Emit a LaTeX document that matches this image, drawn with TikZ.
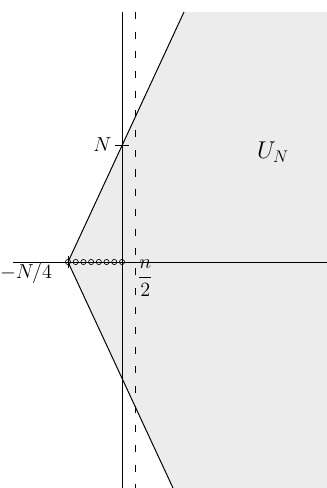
\documentclass[tikz,border=0pt]{standalone}
\usetikzlibrary{positioning,calc}
\begin{document}
\begin{tikzpicture}[x=0.025cm, y=0.025cm,
    axis/.style={line width=0.7pt},
    bound/.style={line width=0.7pt},
    region/.style={fill=gray!15},
    dot/.style={line width=0.45pt},
    lbl/.style={font=\fontsize{13.5}{16}\selectfont, inner sep=1pt}
]
\useasboundingbox (-122,-226) rectangle (205,262);

% Key points
\coordinate (O) at (0,0);
\coordinate (A) at (-54,0);
\coordinate (T) at (62,250);
\coordinate (B) at (51,-226);
\coordinate (NT) at (0,117);

% Region U_N
\fill[region] (A) -- (T) -- (205,250) -- (205,-226) -- (B) -- cycle;

% Axes
\coordinate (xl) at (-109,0);
\coordinate (xr) at (205,0);
\coordinate (yt) at (0,250);
\coordinate (yb) at (0,-226);
\draw[axis] (xl) -- (xr);
\draw[axis] (yt) -- (yb);

% Dashed line at n/2
\coordinate (dt) at (13,250);
\coordinate (db) at (13,-226);
\draw[axis, dash pattern=on 5pt off 9pt] (dt) -- (db);

% Boundary lines
\draw[bound] (A) -- (T);
\draw[bound] (A) -- (B);

% Ticks
\draw[axis] ($(NT)+(-7,0)$) -- ($(NT)+(7,0)$);
\draw[axis] ($(A)+(0,-6)$) -- ($(A)+(0,6)$);

% Integer points
\foreach \k in {0,...,7}
    \draw[dot] ($(A)!\k/7!(O)$) circle[radius=2.6];

% Labels
\node[lbl, anchor=east] (lN) at ($(NT)+(-9,0)$) {$N$};
\node[lbl] (lA) at (-96,-11) {$-N/4$};
\node[lbl, anchor=west] (lh) at (14,-16) {$\displaystyle\frac{n}{2}$};
\node[lbl, font=\fontsize{17}{20}\selectfont] (lU) at (151,110) {$U_N$};
\end{tikzpicture}
\end{document}
